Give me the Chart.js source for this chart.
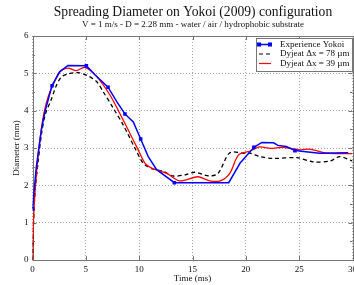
<!DOCTYPE html>
<html>
<head>
<meta charset="utf-8">
<script src="https://cdn.jsdelivr.net/npm/chart.js@4.4.1/dist/chart.umd.min.js"></script>
<style>
html, body { margin: 0; padding: 0; background: #fff; }
</style>
</head>
<body>
<canvas id="myChart" width="354" height="285"></canvas>
<script>
// experience (Yokoi 2009)
const expTime = [0, 0.36, 0.83, 1.14, 1.83, 2.55, 3.33, 5.05, 5.86, 7.08, 7.9, 8.67, 9.45, 10.14, 10.85, 11.64, 13.3, 18.4, 19.45, 20.76, 21.5, 22.6, 23.0, 23.8, 24.6, 26.9, 29.6];
const expDiam = [1.38, 2.5, 3.48, 3.94, 4.67, 5.04, 5.21, 5.2, 4.96, 4.63, 4.24, 3.91, 3.7, 3.24, 2.77, 2.42, 2.07, 2.07, 2.59, 3.02, 3.15, 3.14, 3.07, 3.04, 2.93, 2.86, 2.87];
const expMarked = [0, 4, 7, 9, 11, 13, 16, 19, 24];

// Dyjeat dx = 78 um
const coarseTime = [0, 0.1, 0.25, 0.52, 0.83, 1.2, 1.76, 2.2, 2.7, 3.3, 4.26, 5.2, 6.0, 6.64, 7.5, 8.5, 9.77, 10.39, 11.17, 12.2, 13.2, 14.3, 15.2, 16.6, 17.4, 18.5, 19.8, 20.4, 21.3, 22.6, 24.8, 26.3, 27.9, 28.8, 30];
const coarseDiam = [0, 1.0, 1.9, 2.6, 3.35, 3.9, 4.3, 4.65, 4.9, 4.98, 5.02, 4.93, 4.78, 4.5, 4.1, 3.62, 2.9, 2.59, 2.45, 2.38, 2.25, 2.28, 2.35, 2.25, 2.32, 2.87, 2.86, 2.86, 2.77, 2.72, 2.74, 2.63, 2.65, 2.77, 2.65];

// Dyjeat dx = 39 um
const fineTime = [0, 0.05, 0.14, 0.42, 0.73, 1.08, 1.5, 1.92, 2.58, 3.33, 4.1, 4.9, 6.0, 7.26, 8.5, 9.77, 10.55, 11.17, 12.6, 13.8, 15.5, 16.6, 17.6, 18.5, 19.3, 20.4, 21.3, 22.3, 23.5, 25.1, 26.0, 27.6, 30];
const fineDiam = [0, 0.6, 1.38, 2.5, 3.3, 3.94, 4.4, 4.69, 5.05, 5.14, 5.07, 5.16, 4.92, 4.42, 3.75, 3.03, 2.59, 2.46, 2.32, 2.12, 2.23, 2.12, 2.12, 2.32, 2.81, 2.92, 3.03, 2.99, 3.02, 2.95, 2.97, 2.86, 2.85];

const seriesNames = ['Experience Yokoi', 'Dyjeat \u0394x = 78 \u00b5m', 'Dyjeat \u0394x = 39 \u00b5m'];
const mainTitle = 'Spreading Diameter on Yokoi (2009) configuration';
const subTitle = 'V = 1 m/s - D = 2.28 mm - water / air / hydrophobic substrate';

const serif = '"Liberation Serif", "Times New Roman", serif';

function toPoints(xs, ys) {
    return xs.map((x, i) => ({ x: x, y: ys[i] }));
}

const frame = {
    id: 'frame',
    beforeDatasetsDraw(chart) {
        const ctx = chart.ctx;
        const a = chart.chartArea;
        const xs = chart.scales.x, ys = chart.scales.y;
        ctx.save();
        ctx.strokeStyle = '#777';
        ctx.lineWidth = 1;
        ctx.beginPath();
        // inner tick marks
        for (let v = 0; v <= 6; v += 0.5) {
            const py = Math.round(ys.getPixelForValue(v)) + 0.5;
            const len = (v % 1 === 0) ? 4 : 2.5;
            ctx.moveTo(a.left, py); ctx.lineTo(a.left + len, py);
            ctx.moveTo(a.right, py); ctx.lineTo(a.right - len, py);
        }
        for (let v = 0; v <= 30; v += 5) {
            const px = Math.round(xs.getPixelForValue(v)) + 0.5;
            ctx.moveTo(px, a.bottom); ctx.lineTo(px, a.bottom - 4);
            ctx.moveTo(px, a.top); ctx.lineTo(px, a.top + 4);
        }
        ctx.stroke();
        ctx.strokeRect(Math.round(a.left) + 0.5, Math.round(a.top) + 0.5, Math.round(a.right - a.left), Math.round(a.bottom - a.top));
        ctx.restore();
    },
    afterDraw(chart) {
        const ctx = chart.ctx;
        const a = chart.chartArea;
        ctx.save();
        ctx.fillStyle = '#111';
        ctx.textAlign = 'center';
        ctx.textBaseline = 'middle';
        ctx.font = '13.6px ' + serif;
        ctx.fillText(mainTitle, 193, 12);
        ctx.font = '9px ' + serif;
        ctx.fillText(subTitle, 193, 25);
        ctx.font = '9px ' + serif;
        ctx.fillText('Time (ms)', (a.left + a.right) / 2, 279);
        ctx.save();
        ctx.translate(17, (a.top + a.bottom) / 2);
        ctx.rotate(-Math.PI / 2);
        ctx.fillText('Diameter (mm)', 0, 0);
        ctx.restore();

        // legend box
        const bx = 256.5, by = 38.5, bw = a.right - 256.5, bh = 33;
        ctx.fillStyle = '#fff';
        ctx.fillRect(bx, by, bw, bh);
        ctx.strokeStyle = '#777';
        ctx.lineWidth = 1;
        ctx.strokeRect(bx, by, bw, bh);
        const rows = [44.5, 54, 63.5];
        ctx.textAlign = 'left';
        ctx.font = '9px ' + serif;
        ctx.fillStyle = '#111';
        rows.forEach((ry, i) => ctx.fillText(seriesNames[i], 280, ry));
        // samples
        ctx.lineWidth = 1.5;
        ctx.strokeStyle = '#0000ff';
        ctx.beginPath(); ctx.moveTo(259, rows[0]); ctx.lineTo(270, rows[0]); ctx.stroke();
        ctx.fillStyle = '#0000ff';
        ctx.fillRect(257, rows[0] - 2, 4, 4);
        ctx.fillRect(268, rows[0] - 2, 4, 4);
        ctx.strokeStyle = '#000';
        ctx.lineWidth = 1.2;
        ctx.setLineDash([4, 3]);
        ctx.beginPath(); ctx.moveTo(259, rows[1]); ctx.lineTo(271, rows[1]); ctx.stroke();
        ctx.setLineDash([]);
        ctx.strokeStyle = '#ff0000';
        ctx.beginPath(); ctx.moveTo(259, rows[2]); ctx.lineTo(271, rows[2]); ctx.stroke();
        ctx.restore();
    }
};

const ctx = document.getElementById('myChart');

const data = {
    datasets: [
        {
            label: seriesNames[0],
            data: toPoints(expTime, expDiam),
            borderColor: '#0000ff',
            backgroundColor: '#0000ff',
            borderWidth: 1.5,
            pointStyle: 'rect',
            pointRadius: expTime.map((t, i) => expMarked.includes(i) ? 2.5 : 0),
            pointBorderWidth: 0,
            tension: 0,
            order: 0
        },
        {
            label: seriesNames[1],
            data: toPoints(coarseTime, coarseDiam),
            borderColor: '#000000',
            borderWidth: 1.3,
            borderDash: [4, 3],
            pointRadius: 0,
            tension: 0.3,
            order: 2
        },
        {
            label: seriesNames[2],
            data: toPoints(fineTime, fineDiam),
            borderColor: '#ff0000',
            borderWidth: 1.3,
            pointRadius: 0,
            tension: 0.3,
            order: 1
        }
    ]
};

const config = {
    type: 'line',
    data: data,
    plugins: [frame],
    options: {
        responsive: false,
        animation: false,
        layout: { autoPadding: false, padding: { top: 36, right: 1.5, left: 0, bottom: 0 } },
        plugins: {
            legend: { display: false },
            tooltip: { enabled: false }
        },
        scales: {
            x: {
                type: 'linear',
                min: 0,
                max: 30,
                border: { display: false, dash: [1, 2] },
                grid: { color: 'rgba(0,0,0,0.35)', drawTicks: false, lineWidth: 1 },
                ticks: { stepSize: 5, padding: 4, color: '#111', font: { family: serif, size: 9 }, maxRotation: 0 },
                afterFit(scale) { scale.height = 25; scale.paddingLeft = 0; scale.paddingRight = 0; }
            },
            y: {
                min: 0,
                max: 6,
                border: { display: false, dash: [1, 2] },
                grid: { color: 'rgba(0,0,0,0.35)', drawTicks: false, lineWidth: 1 },
                ticks: { stepSize: 1, padding: 4, color: '#111', font: { family: serif, size: 9 } },
                afterFit(scale) { scale.width = 32.5; scale.paddingTop = 0; scale.paddingBottom = 0; }
            }
        }
    }
};

new Chart(ctx, config);
</script>
</body>
</html>
